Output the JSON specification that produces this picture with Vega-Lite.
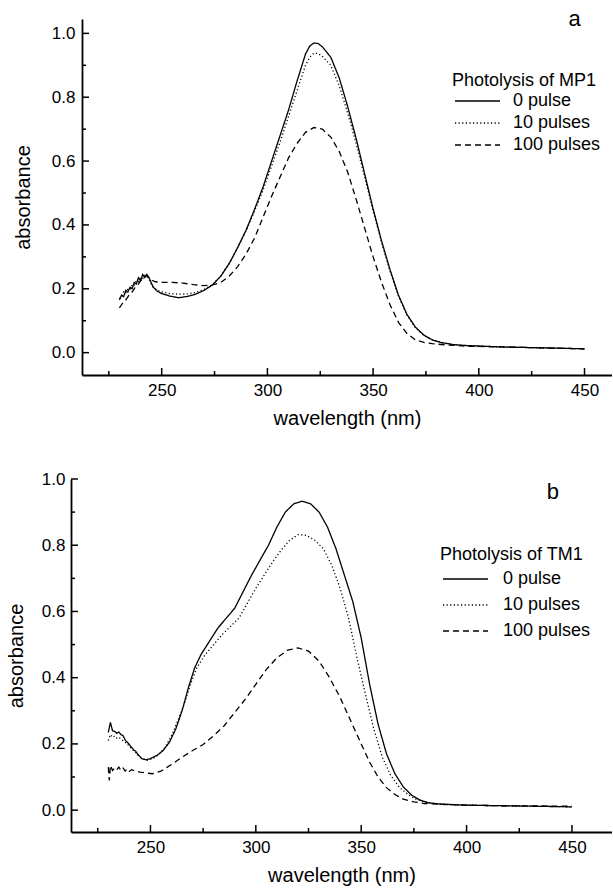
{
  "$schema": "https://vega.github.io/schema/vega-lite/v6.json",
  "background": "white",
  "padding": {"left": 6, "top": 8, "right": 0, "bottom": 4},
  "spacing": 42,
  "config": {
    "view": {"stroke": null},
    "font": "Liberation Sans",
    "axis": {
      "grid": false,
      "ticks": false,
      "domainColor": "black",
      "domainWidth": 1.8,
      "labelColor": "black",
      "labelFont": "Liberation Sans",
      "labelFontSize": 17,
      "titleFont": "Liberation Sans",
      "titleFontSize": 20,
      "titleFontWeight": "normal",
      "titleColor": "black"
    },
    "legend": {
      "titleFont": "Liberation Sans",
      "labelFont": "Liberation Sans",
      "titleFontSize": 18,
      "labelFontSize": 18,
      "titleFontWeight": "normal",
      "titleColor": "black",
      "labelColor": "black",
      "symbolType": "M-1,0H6.5",
      "symbolSize": 144,
      "symbolStrokeWidth": 1.3,
      "symbolStrokeColor": "black",
      "symbolFillColor": "transparent"
    }
  },
  "datasets": {
    "xmaj": [{"wl":250},{"wl":300},{"wl":350},{"wl":400},{"wl":450}],
    "xmin": [{"wl":225},{"wl":275},{"wl":325},{"wl":375},{"wl":425}],
    "ymaj": [{"abs":0},{"abs":0.2},{"abs":0.4},{"abs":0.6},{"abs":0.8},{"abs":1.0}],
    "ymin": [{"abs":0.1},{"abs":0.3},{"abs":0.5},{"abs":0.7},{"abs":0.9}],
    "mp1": [
      {"wl":230,"abs":0.165,"series":"0 pulse"},{"wl":231,"abs":0.18,"series":"0 pulse"},{"wl":232,"abs":0.175,"series":"0 pulse"},{"wl":233,"abs":0.195,"series":"0 pulse"},{"wl":234,"abs":0.19,"series":"0 pulse"},{"wl":235,"abs":0.205,"series":"0 pulse"},{"wl":236,"abs":0.2,"series":"0 pulse"},{"wl":237,"abs":0.22,"series":"0 pulse"},{"wl":238,"abs":0.215,"series":"0 pulse"},{"wl":239,"abs":0.235,"series":"0 pulse"},{"wl":240,"abs":0.225,"series":"0 pulse"},{"wl":241,"abs":0.245,"series":"0 pulse"},{"wl":242,"abs":0.235,"series":"0 pulse"},{"wl":243,"abs":0.245,"series":"0 pulse"},{"wl":244,"abs":0.235,"series":"0 pulse"},{"wl":245,"abs":0.22,"series":"0 pulse"},{"wl":246,"abs":0.205,"series":"0 pulse"},{"wl":248,"abs":0.192,"series":"0 pulse"},{"wl":250,"abs":0.185,"series":"0 pulse"},{"wl":254,"abs":0.177,"series":"0 pulse"},{"wl":258,"abs":0.172,"series":"0 pulse"},{"wl":262,"abs":0.176,"series":"0 pulse"},{"wl":266,"abs":0.183,"series":"0 pulse"},{"wl":270,"abs":0.195,"series":"0 pulse"},{"wl":274,"abs":0.212,"series":"0 pulse"},{"wl":278,"abs":0.24,"series":"0 pulse"},{"wl":282,"abs":0.28,"series":"0 pulse"},{"wl":286,"abs":0.33,"series":"0 pulse"},{"wl":290,"abs":0.385,"series":"0 pulse"},{"wl":294,"abs":0.45,"series":"0 pulse"},{"wl":298,"abs":0.52,"series":"0 pulse"},{"wl":302,"abs":0.6,"series":"0 pulse"},{"wl":306,"abs":0.68,"series":"0 pulse"},{"wl":310,"abs":0.76,"series":"0 pulse"},{"wl":314,"abs":0.85,"series":"0 pulse"},{"wl":318,"abs":0.935,"series":"0 pulse"},{"wl":320,"abs":0.96,"series":"0 pulse"},{"wl":322,"abs":0.97,"series":"0 pulse"},{"wl":324,"abs":0.968,"series":"0 pulse"},{"wl":326,"abs":0.958,"series":"0 pulse"},{"wl":330,"abs":0.925,"series":"0 pulse"},{"wl":334,"abs":0.86,"series":"0 pulse"},{"wl":338,"abs":0.77,"series":"0 pulse"},{"wl":342,"abs":0.67,"series":"0 pulse"},{"wl":346,"abs":0.56,"series":"0 pulse"},{"wl":350,"abs":0.45,"series":"0 pulse"},{"wl":354,"abs":0.35,"series":"0 pulse"},{"wl":358,"abs":0.26,"series":"0 pulse"},{"wl":362,"abs":0.18,"series":"0 pulse"},{"wl":366,"abs":0.12,"series":"0 pulse"},{"wl":370,"abs":0.08,"series":"0 pulse"},{"wl":374,"abs":0.055,"series":"0 pulse"},{"wl":378,"abs":0.04,"series":"0 pulse"},{"wl":382,"abs":0.032,"series":"0 pulse"},{"wl":388,"abs":0.025,"series":"0 pulse"},{"wl":395,"abs":0.022,"series":"0 pulse"},{"wl":410,"abs":0.018,"series":"0 pulse"},{"wl":430,"abs":0.015,"series":"0 pulse"},{"wl":450,"abs":0.012,"series":"0 pulse"},

      {"wl":230,"abs":0.17,"series":"10 pulses"},{"wl":231,"abs":0.175,"series":"10 pulses"},{"wl":232,"abs":0.19,"series":"10 pulses"},{"wl":233,"abs":0.185,"series":"10 pulses"},{"wl":234,"abs":0.2,"series":"10 pulses"},{"wl":235,"abs":0.198,"series":"10 pulses"},{"wl":236,"abs":0.212,"series":"10 pulses"},{"wl":237,"abs":0.21,"series":"10 pulses"},{"wl":238,"abs":0.225,"series":"10 pulses"},{"wl":239,"abs":0.222,"series":"10 pulses"},{"wl":240,"abs":0.235,"series":"10 pulses"},{"wl":241,"abs":0.232,"series":"10 pulses"},{"wl":242,"abs":0.242,"series":"10 pulses"},{"wl":243,"abs":0.24,"series":"10 pulses"},{"wl":244,"abs":0.23,"series":"10 pulses"},{"wl":245,"abs":0.215,"series":"10 pulses"},{"wl":246,"abs":0.205,"series":"10 pulses"},{"wl":248,"abs":0.195,"series":"10 pulses"},{"wl":250,"abs":0.19,"series":"10 pulses"},{"wl":254,"abs":0.185,"series":"10 pulses"},{"wl":258,"abs":0.183,"series":"10 pulses"},{"wl":262,"abs":0.184,"series":"10 pulses"},{"wl":266,"abs":0.188,"series":"10 pulses"},{"wl":270,"abs":0.198,"series":"10 pulses"},{"wl":274,"abs":0.213,"series":"10 pulses"},{"wl":278,"abs":0.24,"series":"10 pulses"},{"wl":282,"abs":0.28,"series":"10 pulses"},{"wl":286,"abs":0.33,"series":"10 pulses"},{"wl":290,"abs":0.383,"series":"10 pulses"},{"wl":294,"abs":0.445,"series":"10 pulses"},{"wl":298,"abs":0.51,"series":"10 pulses"},{"wl":302,"abs":0.585,"series":"10 pulses"},{"wl":306,"abs":0.66,"series":"10 pulses"},{"wl":310,"abs":0.74,"series":"10 pulses"},{"wl":314,"abs":0.82,"series":"10 pulses"},{"wl":318,"abs":0.9,"series":"10 pulses"},{"wl":320,"abs":0.925,"series":"10 pulses"},{"wl":322,"abs":0.938,"series":"10 pulses"},{"wl":324,"abs":0.937,"series":"10 pulses"},{"wl":326,"abs":0.928,"series":"10 pulses"},{"wl":330,"abs":0.9,"series":"10 pulses"},{"wl":334,"abs":0.835,"series":"10 pulses"},{"wl":338,"abs":0.75,"series":"10 pulses"},{"wl":342,"abs":0.655,"series":"10 pulses"},{"wl":346,"abs":0.55,"series":"10 pulses"},{"wl":350,"abs":0.445,"series":"10 pulses"},{"wl":354,"abs":0.345,"series":"10 pulses"},{"wl":358,"abs":0.255,"series":"10 pulses"},{"wl":362,"abs":0.177,"series":"10 pulses"},{"wl":366,"abs":0.118,"series":"10 pulses"},{"wl":370,"abs":0.078,"series":"10 pulses"},{"wl":374,"abs":0.054,"series":"10 pulses"},{"wl":378,"abs":0.04,"series":"10 pulses"},{"wl":382,"abs":0.032,"series":"10 pulses"},{"wl":388,"abs":0.025,"series":"10 pulses"},{"wl":395,"abs":0.022,"series":"10 pulses"},{"wl":410,"abs":0.018,"series":"10 pulses"},{"wl":430,"abs":0.015,"series":"10 pulses"},{"wl":450,"abs":0.012,"series":"10 pulses"},

      {"wl":230,"abs":0.14,"series":"100 pulses"},{"wl":231,"abs":0.15,"series":"100 pulses"},{"wl":232,"abs":0.16,"series":"100 pulses"},{"wl":233,"abs":0.165,"series":"100 pulses"},{"wl":234,"abs":0.175,"series":"100 pulses"},{"wl":235,"abs":0.185,"series":"100 pulses"},{"wl":236,"abs":0.19,"series":"100 pulses"},{"wl":237,"abs":0.2,"series":"100 pulses"},{"wl":238,"abs":0.21,"series":"100 pulses"},{"wl":239,"abs":0.215,"series":"100 pulses"},{"wl":240,"abs":0.225,"series":"100 pulses"},{"wl":241,"abs":0.23,"series":"100 pulses"},{"wl":242,"abs":0.24,"series":"100 pulses"},{"wl":243,"abs":0.24,"series":"100 pulses"},{"wl":244,"abs":0.235,"series":"100 pulses"},{"wl":245,"abs":0.228,"series":"100 pulses"},{"wl":247,"abs":0.222,"series":"100 pulses"},{"wl":250,"abs":0.22,"series":"100 pulses"},{"wl":255,"abs":0.22,"series":"100 pulses"},{"wl":260,"abs":0.218,"series":"100 pulses"},{"wl":265,"abs":0.213,"series":"100 pulses"},{"wl":270,"abs":0.21,"series":"100 pulses"},{"wl":274,"abs":0.212,"series":"100 pulses"},{"wl":278,"abs":0.22,"series":"100 pulses"},{"wl":282,"abs":0.24,"series":"100 pulses"},{"wl":286,"abs":0.27,"series":"100 pulses"},{"wl":290,"abs":0.31,"series":"100 pulses"},{"wl":294,"abs":0.36,"series":"100 pulses"},{"wl":298,"abs":0.425,"series":"100 pulses"},{"wl":302,"abs":0.49,"series":"100 pulses"},{"wl":306,"abs":0.55,"series":"100 pulses"},{"wl":310,"abs":0.61,"series":"100 pulses"},{"wl":314,"abs":0.655,"series":"100 pulses"},{"wl":318,"abs":0.69,"series":"100 pulses"},{"wl":322,"abs":0.705,"series":"100 pulses"},{"wl":326,"abs":0.7,"series":"100 pulses"},{"wl":330,"abs":0.675,"series":"100 pulses"},{"wl":334,"abs":0.63,"series":"100 pulses"},{"wl":338,"abs":0.565,"series":"100 pulses"},{"wl":342,"abs":0.48,"series":"100 pulses"},{"wl":346,"abs":0.39,"series":"100 pulses"},{"wl":350,"abs":0.3,"series":"100 pulses"},{"wl":354,"abs":0.22,"series":"100 pulses"},{"wl":358,"abs":0.15,"series":"100 pulses"},{"wl":362,"abs":0.095,"series":"100 pulses"},{"wl":366,"abs":0.06,"series":"100 pulses"},{"wl":370,"abs":0.04,"series":"100 pulses"},{"wl":374,"abs":0.032,"series":"100 pulses"},{"wl":378,"abs":0.028,"series":"100 pulses"},{"wl":385,"abs":0.024,"series":"100 pulses"},{"wl":395,"abs":0.02,"series":"100 pulses"},{"wl":410,"abs":0.018,"series":"100 pulses"},{"wl":430,"abs":0.015,"series":"100 pulses"},{"wl":450,"abs":0.012,"series":"100 pulses"}
    ],
    "tm1": [
      {"wl":230,"abs":0.235,"series":"0 pulse"},{"wl":231,"abs":0.265,"series":"0 pulse"},{"wl":232,"abs":0.24,"series":"0 pulse"},{"wl":233,"abs":0.238,"series":"0 pulse"},{"wl":234,"abs":0.232,"series":"0 pulse"},{"wl":235,"abs":0.236,"series":"0 pulse"},{"wl":236,"abs":0.228,"series":"0 pulse"},{"wl":237,"abs":0.225,"series":"0 pulse"},{"wl":238,"abs":0.212,"series":"0 pulse"},{"wl":239,"abs":0.205,"series":"0 pulse"},{"wl":240,"abs":0.198,"series":"0 pulse"},{"wl":241,"abs":0.19,"series":"0 pulse"},{"wl":242,"abs":0.182,"series":"0 pulse"},{"wl":243,"abs":0.178,"series":"0 pulse"},{"wl":244,"abs":0.168,"series":"0 pulse"},{"wl":245,"abs":0.162,"series":"0 pulse"},{"wl":246,"abs":0.155,"series":"0 pulse"},{"wl":248,"abs":0.152,"series":"0 pulse"},{"wl":250,"abs":0.156,"series":"0 pulse"},{"wl":253,"abs":0.165,"series":"0 pulse"},{"wl":256,"abs":0.18,"series":"0 pulse"},{"wl":259,"abs":0.205,"series":"0 pulse"},{"wl":262,"abs":0.245,"series":"0 pulse"},{"wl":265,"abs":0.3,"series":"0 pulse"},{"wl":268,"abs":0.37,"series":"0 pulse"},{"wl":271,"abs":0.43,"series":"0 pulse"},{"wl":274,"abs":0.47,"series":"0 pulse"},{"wl":278,"abs":0.51,"series":"0 pulse"},{"wl":282,"abs":0.55,"series":"0 pulse"},{"wl":286,"abs":0.58,"series":"0 pulse"},{"wl":290,"abs":0.61,"series":"0 pulse"},{"wl":294,"abs":0.66,"series":"0 pulse"},{"wl":298,"abs":0.71,"series":"0 pulse"},{"wl":302,"abs":0.755,"series":"0 pulse"},{"wl":306,"abs":0.8,"series":"0 pulse"},{"wl":310,"abs":0.855,"series":"0 pulse"},{"wl":314,"abs":0.9,"series":"0 pulse"},{"wl":318,"abs":0.925,"series":"0 pulse"},{"wl":322,"abs":0.933,"series":"0 pulse"},{"wl":326,"abs":0.925,"series":"0 pulse"},{"wl":330,"abs":0.9,"series":"0 pulse"},{"wl":334,"abs":0.855,"series":"0 pulse"},{"wl":338,"abs":0.79,"series":"0 pulse"},{"wl":342,"abs":0.71,"series":"0 pulse"},{"wl":346,"abs":0.63,"series":"0 pulse"},{"wl":350,"abs":0.52,"series":"0 pulse"},{"wl":354,"abs":0.38,"series":"0 pulse"},{"wl":358,"abs":0.26,"series":"0 pulse"},{"wl":362,"abs":0.17,"series":"0 pulse"},{"wl":366,"abs":0.11,"series":"0 pulse"},{"wl":370,"abs":0.07,"series":"0 pulse"},{"wl":374,"abs":0.045,"series":"0 pulse"},{"wl":378,"abs":0.03,"series":"0 pulse"},{"wl":382,"abs":0.022,"series":"0 pulse"},{"wl":388,"abs":0.018,"series":"0 pulse"},{"wl":400,"abs":0.015,"series":"0 pulse"},{"wl":420,"abs":0.013,"series":"0 pulse"},{"wl":450,"abs":0.01,"series":"0 pulse"},

      {"wl":230,"abs":0.21,"series":"10 pulses"},{"wl":231,"abs":0.228,"series":"10 pulses"},{"wl":232,"abs":0.22,"series":"10 pulses"},{"wl":233,"abs":0.224,"series":"10 pulses"},{"wl":234,"abs":0.218,"series":"10 pulses"},{"wl":235,"abs":0.22,"series":"10 pulses"},{"wl":236,"abs":0.214,"series":"10 pulses"},{"wl":237,"abs":0.21,"series":"10 pulses"},{"wl":238,"abs":0.205,"series":"10 pulses"},{"wl":239,"abs":0.2,"series":"10 pulses"},{"wl":240,"abs":0.192,"series":"10 pulses"},{"wl":241,"abs":0.186,"series":"10 pulses"},{"wl":242,"abs":0.18,"series":"10 pulses"},{"wl":243,"abs":0.174,"series":"10 pulses"},{"wl":245,"abs":0.16,"series":"10 pulses"},{"wl":248,"abs":0.15,"series":"10 pulses"},{"wl":251,"abs":0.155,"series":"10 pulses"},{"wl":254,"abs":0.168,"series":"10 pulses"},{"wl":257,"abs":0.19,"series":"10 pulses"},{"wl":260,"abs":0.225,"series":"10 pulses"},{"wl":263,"abs":0.27,"series":"10 pulses"},{"wl":266,"abs":0.32,"series":"10 pulses"},{"wl":269,"abs":0.38,"series":"10 pulses"},{"wl":272,"abs":0.43,"series":"10 pulses"},{"wl":276,"abs":0.47,"series":"10 pulses"},{"wl":280,"abs":0.5,"series":"10 pulses"},{"wl":284,"abs":0.53,"series":"10 pulses"},{"wl":288,"abs":0.555,"series":"10 pulses"},{"wl":292,"abs":0.58,"series":"10 pulses"},{"wl":296,"abs":0.625,"series":"10 pulses"},{"wl":300,"abs":0.67,"series":"10 pulses"},{"wl":304,"abs":0.71,"series":"10 pulses"},{"wl":308,"abs":0.75,"series":"10 pulses"},{"wl":312,"abs":0.785,"series":"10 pulses"},{"wl":316,"abs":0.815,"series":"10 pulses"},{"wl":320,"abs":0.832,"series":"10 pulses"},{"wl":324,"abs":0.83,"series":"10 pulses"},{"wl":328,"abs":0.815,"series":"10 pulses"},{"wl":332,"abs":0.79,"series":"10 pulses"},{"wl":336,"abs":0.74,"series":"10 pulses"},{"wl":340,"abs":0.67,"series":"10 pulses"},{"wl":344,"abs":0.58,"series":"10 pulses"},{"wl":348,"abs":0.46,"series":"10 pulses"},{"wl":352,"abs":0.35,"series":"10 pulses"},{"wl":356,"abs":0.245,"series":"10 pulses"},{"wl":360,"abs":0.16,"series":"10 pulses"},{"wl":364,"abs":0.105,"series":"10 pulses"},{"wl":368,"abs":0.07,"series":"10 pulses"},{"wl":372,"abs":0.048,"series":"10 pulses"},{"wl":376,"abs":0.033,"series":"10 pulses"},{"wl":380,"abs":0.025,"series":"10 pulses"},{"wl":386,"abs":0.019,"series":"10 pulses"},{"wl":400,"abs":0.015,"series":"10 pulses"},{"wl":420,"abs":0.013,"series":"10 pulses"},{"wl":450,"abs":0.01,"series":"10 pulses"},

      {"wl":230,"abs":0.13,"series":"100 pulses"},{"wl":230.5,"abs":0.09,"series":"100 pulses"},{"wl":231,"abs":0.135,"series":"100 pulses"},{"wl":232,"abs":0.12,"series":"100 pulses"},{"wl":233,"abs":0.128,"series":"100 pulses"},{"wl":234,"abs":0.122,"series":"100 pulses"},{"wl":235,"abs":0.13,"series":"100 pulses"},{"wl":236,"abs":0.12,"series":"100 pulses"},{"wl":237,"abs":0.127,"series":"100 pulses"},{"wl":238,"abs":0.118,"series":"100 pulses"},{"wl":239,"abs":0.125,"series":"100 pulses"},{"wl":240,"abs":0.117,"series":"100 pulses"},{"wl":241,"abs":0.122,"series":"100 pulses"},{"wl":243,"abs":0.118,"series":"100 pulses"},{"wl":245,"abs":0.115,"series":"100 pulses"},{"wl":248,"abs":0.112,"series":"100 pulses"},{"wl":251,"abs":0.11,"series":"100 pulses"},{"wl":255,"abs":0.118,"series":"100 pulses"},{"wl":260,"abs":0.138,"series":"100 pulses"},{"wl":265,"abs":0.16,"series":"100 pulses"},{"wl":270,"abs":0.18,"series":"100 pulses"},{"wl":275,"abs":0.198,"series":"100 pulses"},{"wl":280,"abs":0.225,"series":"100 pulses"},{"wl":285,"abs":0.255,"series":"100 pulses"},{"wl":290,"abs":0.295,"series":"100 pulses"},{"wl":295,"abs":0.335,"series":"100 pulses"},{"wl":300,"abs":0.38,"series":"100 pulses"},{"wl":305,"abs":0.425,"series":"100 pulses"},{"wl":310,"abs":0.46,"series":"100 pulses"},{"wl":315,"abs":0.483,"series":"100 pulses"},{"wl":320,"abs":0.49,"series":"100 pulses"},{"wl":325,"abs":0.48,"series":"100 pulses"},{"wl":330,"abs":0.45,"series":"100 pulses"},{"wl":335,"abs":0.4,"series":"100 pulses"},{"wl":340,"abs":0.34,"series":"100 pulses"},{"wl":345,"abs":0.27,"series":"100 pulses"},{"wl":350,"abs":0.2,"series":"100 pulses"},{"wl":354,"abs":0.145,"series":"100 pulses"},{"wl":358,"abs":0.1,"series":"100 pulses"},{"wl":362,"abs":0.068,"series":"100 pulses"},{"wl":366,"abs":0.047,"series":"100 pulses"},{"wl":370,"abs":0.033,"series":"100 pulses"},{"wl":375,"abs":0.025,"series":"100 pulses"},{"wl":380,"abs":0.02,"series":"100 pulses"},{"wl":390,"abs":0.017,"series":"100 pulses"},{"wl":400,"abs":0.015,"series":"100 pulses"},{"wl":420,"abs":0.013,"series":"100 pulses"},{"wl":450,"abs":0.012,"series":"100 pulses"}
    ],
    "labels_a": [{"wl": 445.3, "abs": 1.044, "label": "a"}],
    "labels_b": [{"wl": 441, "abs": 0.96, "label": "b"}]
  },
  "vconcat": [
    {
      "width": 541,
      "height": 356,
      "layer": [
        {
          "data": {"name": "mp1"},
          "mark": {"type": "line", "color": "black", "strokeWidth": 1.3},
          "encoding": {
            "x": {"field": "wl", "type": "quantitative",
              "scale": {"domain": [212.3, 463], "range": [11, 541], "nice": false, "zero": false},
              "axis": {"title": "wavelength (nm)", "values": [250,300,350,400,450], "labelPadding": 7, "titlePadding": 10}},
            "y": {"field": "abs", "type": "quantitative",
              "scale": {"domain": [-0.07, 1.045], "nice": false, "zero": false},
              "axis": {"title": "absorbance", "offset": -11, "values": [0,0.2,0.4,0.6,0.8,1.0], "format": ".1f", "labelPadding": 7, "titlePadding": 18}},
            "strokeDash": {"field": "series", "type": "nominal",
              "scale": {"domain": ["0 pulse", "10 pulses", "100 pulses"], "range": [[1,0],[1.2,2.4],[6,4]]},
              "legend": {"orient": "none", "legendX": 381, "legendY": 53, "title": "Photolysis of MP1", "titlePadding": 2, "rowPadding": 4, "labelOffset": 43}}
          }
        },
        {
          "data": {"name": "labels_a"},
          "mark": {"type": "text", "fontSize": 22, "font": "Liberation Sans", "color": "black", "baseline": "middle", "align": "center"},
          "encoding": {
            "x": {"field": "wl", "type": "quantitative"},
            "y": {"field": "abs", "type": "quantitative"},
            "text": {"field": "label"}
          }
        },
        {
          "data": {"name": "xmaj"},
          "mark": {"type": "rule", "color": "black", "strokeWidth": 1.5},
          "encoding": {
            "x": {"field": "wl", "type": "quantitative"},
            "y": {"datum": -0.07, "type": "quantitative"},
            "y2": {"datum": -0.048}
          }
        },
        {
          "data": {"name": "xmin"},
          "mark": {"type": "rule", "color": "black", "strokeWidth": 1.5},
          "encoding": {
            "x": {"field": "wl", "type": "quantitative"},
            "y": {"datum": -0.07, "type": "quantitative"},
            "y2": {"datum": -0.0575}
          }
        },
        {
          "data": {"name": "ymaj"},
          "mark": {"type": "rule", "color": "black", "strokeWidth": 1.5},
          "encoding": {
            "y": {"field": "abs", "type": "quantitative"},
            "x": {"datum": 212.3, "type": "quantitative"},
            "x2": {"datum": 215.6}
          }
        },
        {
          "data": {"name": "ymin"},
          "mark": {"type": "rule", "color": "black", "strokeWidth": 1.5},
          "encoding": {
            "y": {"field": "abs", "type": "quantitative"},
            "x": {"datum": 212.3, "type": "quantitative"},
            "x2": {"datum": 214.2}
          }
        }
      ]
    },
    {
      "width": 541,
      "height": 353,
      "layer": [
        {
          "data": {"name": "tm1"},
          "mark": {"type": "line", "color": "black", "strokeWidth": 1.3},
          "encoding": {
            "x": {"field": "wl", "type": "quantitative",
              "scale": {"domain": [212.3, 469], "nice": false, "zero": false},
              "axis": {"title": "wavelength (nm)", "values": [250,300,350,400,450], "labelPadding": 7, "titlePadding": 10}},
            "y": {"field": "abs", "type": "quantitative",
              "scale": {"domain": [-0.066, 1.0], "nice": false, "zero": false},
              "axis": {"title": "absorbance", "values": [0,0.2,0.4,0.6,0.8,1.0], "format": ".1f", "labelPadding": 6, "titlePadding": 15}},
            "strokeDash": {"field": "series", "type": "nominal",
              "scale": {"domain": ["0 pulse", "10 pulses", "100 pulses"], "range": [[1,0],[1.2,2.4],[6,4]]},
              "legend": {"orient": "none", "legendX": 369, "legendY": 67, "title": "Photolysis of TM1", "titlePadding": 6, "rowPadding": 8, "labelOffset": 45}}
          }
        },
        {
          "data": {"name": "labels_b"},
          "mark": {"type": "text", "fontSize": 22, "font": "Liberation Sans", "color": "black", "baseline": "middle", "align": "center"},
          "encoding": {
            "x": {"field": "wl", "type": "quantitative"},
            "y": {"field": "abs", "type": "quantitative"},
            "text": {"field": "label"}
          }
        },
        {
          "data": {"name": "xmaj"},
          "mark": {"type": "rule", "color": "black", "strokeWidth": 1.5},
          "encoding": {
            "x": {"field": "wl", "type": "quantitative"},
            "y": {"datum": -0.066, "type": "quantitative"},
            "y2": {"datum": -0.045}
          }
        },
        {
          "data": {"name": "xmin"},
          "mark": {"type": "rule", "color": "black", "strokeWidth": 1.5},
          "encoding": {
            "x": {"field": "wl", "type": "quantitative"},
            "y": {"datum": -0.066, "type": "quantitative"},
            "y2": {"datum": -0.054}
          }
        },
        {
          "data": {"name": "ymaj"},
          "mark": {"type": "rule", "color": "black", "strokeWidth": 1.5},
          "encoding": {
            "y": {"field": "abs", "type": "quantitative"},
            "x": {"datum": 212.3, "type": "quantitative"},
            "x2": {"datum": 215.6}
          }
        },
        {
          "data": {"name": "ymin"},
          "mark": {"type": "rule", "color": "black", "strokeWidth": 1.5},
          "encoding": {
            "y": {"field": "abs", "type": "quantitative"},
            "x": {"datum": 212.3, "type": "quantitative"},
            "x2": {"datum": 214.2}
          }
        }
      ]
    }
  ],
  "resolve": {"scale": {"x": "independent", "y": "independent", "strokeDash": "independent"}}
}
